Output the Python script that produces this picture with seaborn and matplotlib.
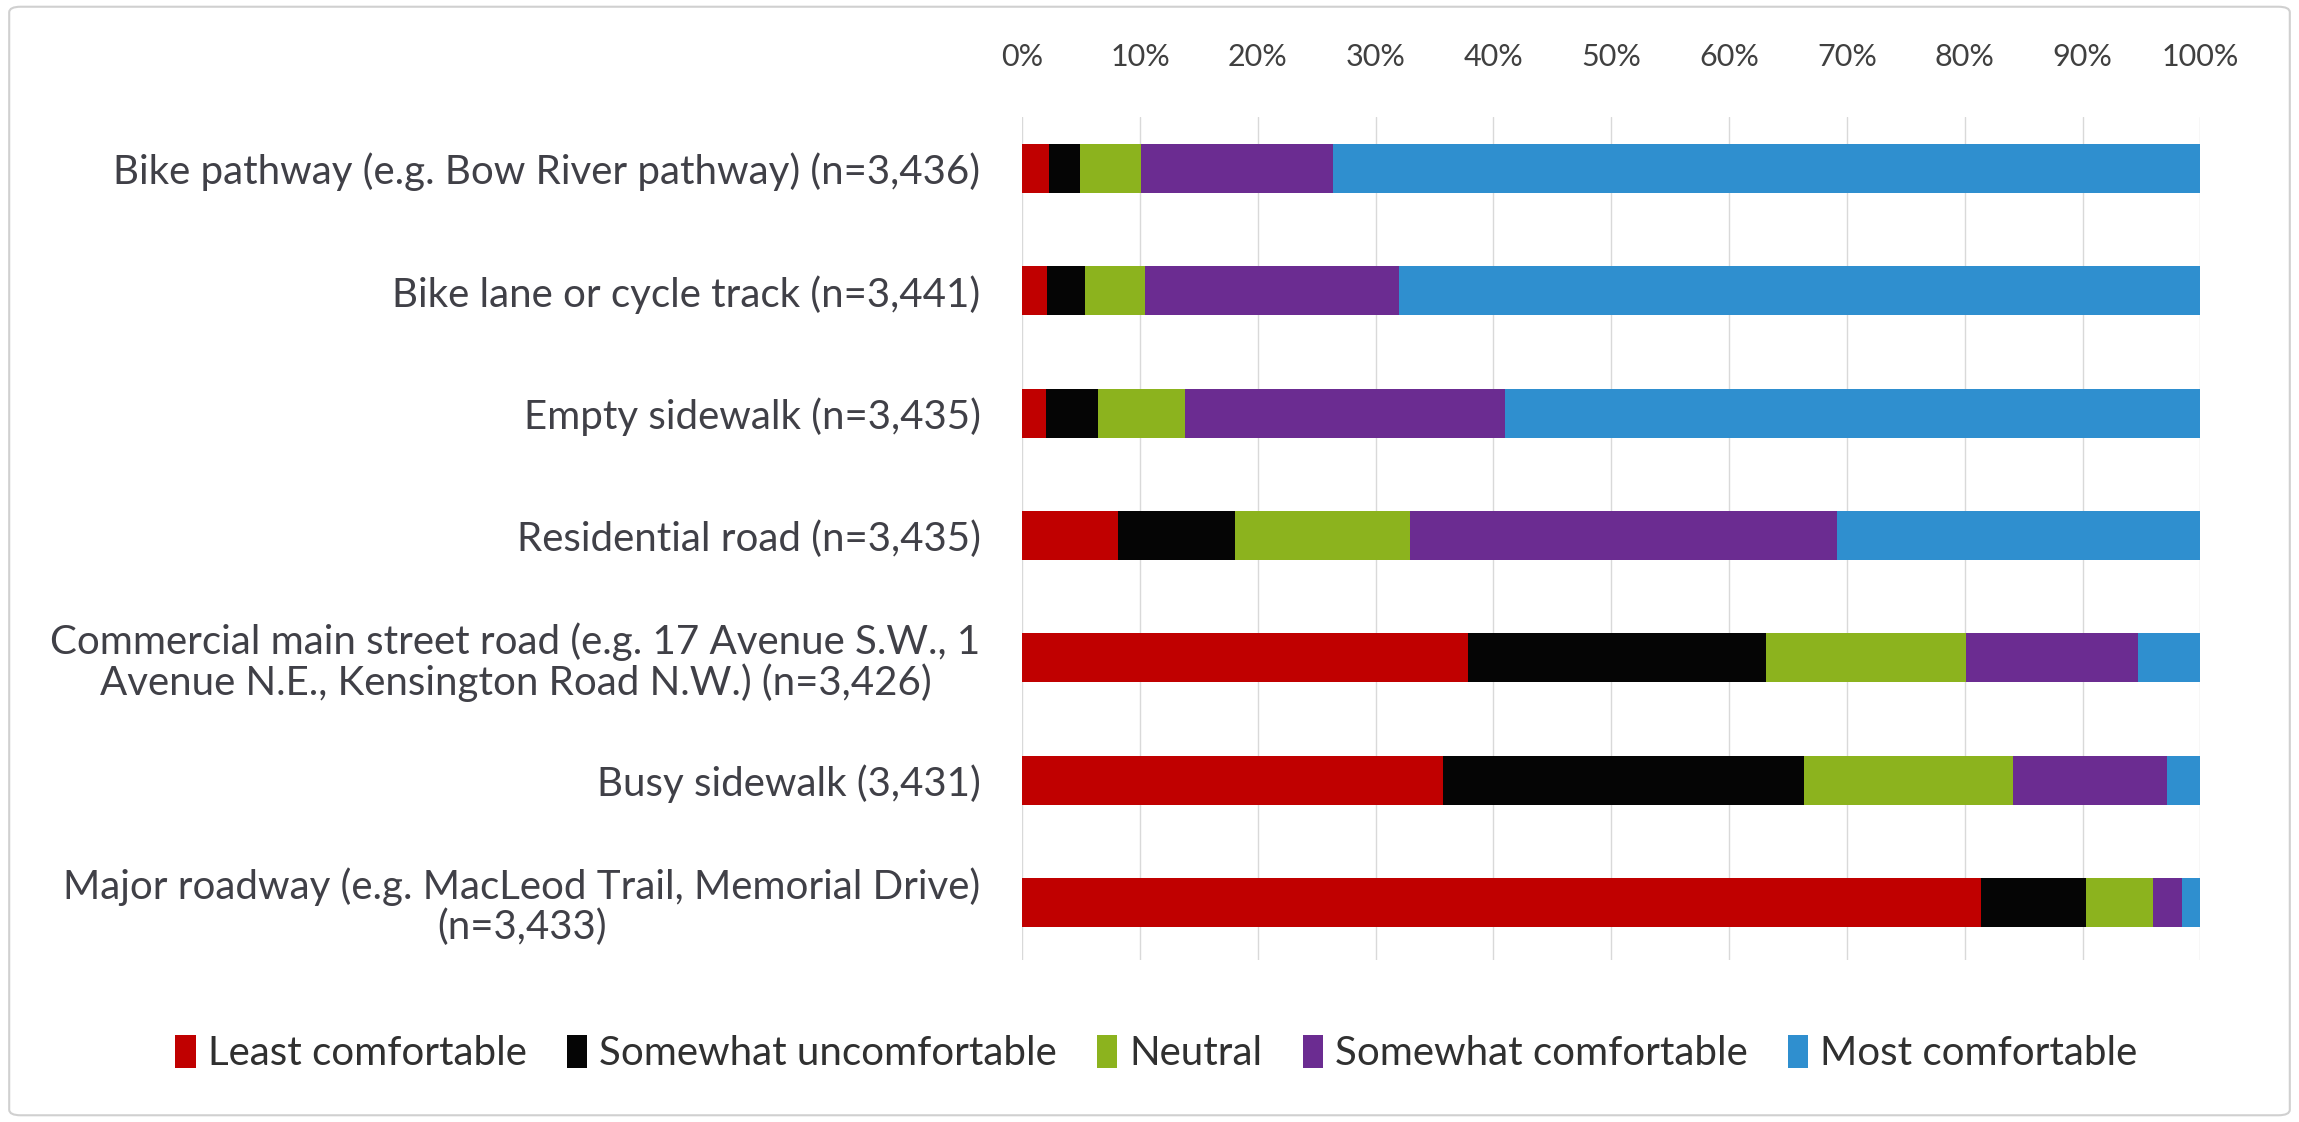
import numpy as np
import pandas as pd
import matplotlib
matplotlib.use("Agg")
import matplotlib.pyplot as plt
from matplotlib.patches import FancyBboxPatch
import seaborn as sns

categories = [
    "Bike pathway (e.g. Bow River pathway) (n=3,436)",
    "Bike lane or cycle track (n=3,441)",
    "Empty sidewalk (n=3,435)",
    "Residential road (n=3,435)",
    "Commercial main street road (e.g. 17 Avenue S.W., 1\nAvenue N.E., Kensington Road N.W.) (n=3,426)",
    "Busy sidewalk (3,431)",
    "Major roadway (e.g. MacLeod Trail, Memorial Drive)\n(n=3,433)",
]
levels = ["Least comfortable", "Somewhat uncomfortable", "Neutral",
          "Somewhat comfortable", "Most comfortable"]

least = [2.3, 2.1, 2.0, 8.1, 37.8, 35.7, 81.4]
somewhat_unc = [2.6, 3.2, 4.4, 10.0, 25.3, 30.7, 8.9]
neutral = [5.2, 5.1, 7.4, 14.8, 17.0, 17.7, 5.7]
somewhat_comf = [16.3, 21.6, 27.2, 36.3, 14.6, 13.1, 2.4]
most = [73.6, 68.0, 59.0, 30.8, 5.3, 2.8, 1.6]

colors = ["#C00000", "#050505", "#8CB31E", "#6B2C91", "#2F8FCF"]

df = pd.DataFrame({"Category": categories, levels[0]: least, levels[1]: somewhat_unc,
                   levels[2]: neutral, levels[3]: somewhat_comf, levels[4]: most})
cum = df[levels].cumsum(axis=1)

sns.set_style("white")
plt.rcParams["font.family"] = ["Lato", "DejaVu Sans"]

fig = plt.figure(figsize=(22.99, 11.22), dpi=100)
ax = fig.add_axes([0.4446, 0.1444, 0.5125, 0.7513])

# stacked bars: draw cumulative totals from the back to the front
for i in range(len(levels) - 1, -1, -1):
    sns.barplot(x=cum[levels[i]], y=df["Category"], color=colors[i], width=0.4,
                orient="h", ax=ax, label=levels[i], saturation=1, linewidth=0)

ax.set_xlim(0, 100)
ax.set_ylim(6.47, -0.42)
ax.xaxis.tick_top()
ax.set_xticks(range(0, 101, 10))
ax.set_xticklabels([f"{v}%" for v in range(0, 101, 10)])
ax.tick_params(axis="x", length=0, pad=33, labelsize=22, labelcolor="#404040")
ax.tick_params(axis="y", length=0, pad=30, labelsize=29, labelcolor="#404047")
for lab in ax.get_yticklabels():
    lab.set_multialignment("center")
    lab.set_linespacing(1.05)
ax.set_xlabel("")
ax.set_ylabel("")
ax.grid(axis="x", color="#d9d9d9", linewidth=1)
ax.set_axisbelow(True)
for s in ax.spines.values():
    s.set_visible(False)

handles, labels = ax.get_legend_handles_labels()
fig.legend(handles[::-1], labels[::-1], loc="center", bbox_to_anchor=(0.503, 0.061),
           ncol=5, frameon=False, fontsize=29, handlelength=0.5, handleheight=0.9,
           handletextpad=0.3, columnspacing=1.0, labelcolor="#303030")
if ax.get_legend() is not None:
    ax.get_legend().remove()

fig.patches.append(FancyBboxPatch((0.004, 0.006), 0.992, 0.988, boxstyle="round,pad=0,rounding_size=0.005",
                                  transform=fig.transFigure, facecolor="none",
                                  edgecolor="#d0d0d0", linewidth=1.5))

fig.savefig("out.png", dpi=100)
